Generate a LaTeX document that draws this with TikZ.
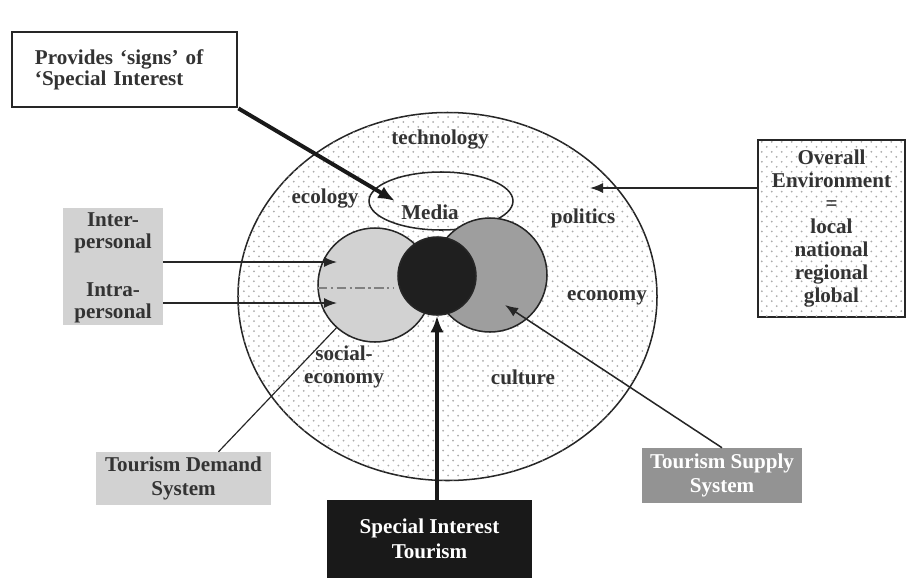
\documentclass[tikz,border=0pt]{standalone}
\usepackage{fontspec}
\setmainfont{Liberation Serif}
\usepackage{tikz}
\usetikzlibrary{positioning, arrows.meta, calc, shapes.geometric, patterns.meta}
\definecolor{lgray}{HTML}{D2D2D2}
\definecolor{mgray}{HTML}{9E9E9E}
\definecolor{bgray}{HTML}{939393}
\definecolor{txt}{HTML}{333333}

\begin{document}
\begin{tikzpicture}[x=0.3mm, y=-0.3mm,
  font=\fontsize{18}{19}\selectfont\bfseries, text=txt,
  dotfill/.style={fill=white,
    postaction={pattern={Dots[distance=8.5pt, radius=0.85pt]}, pattern color=black!33},
    postaction={pattern={Dots[distance=8.5pt, radius=0.85pt, xshift=4.25pt, yshift=4.25pt]},
                pattern color=black!33}},
  ring/.style={draw=black!85, line width=1.3pt, inner sep=0pt},
  box/.style={rectangle, inner sep=0pt, align=center,
              font=\fontsize{18}{21}\selectfont\bfseries},
  ar/.style={-{Latex[length=3.9mm,width=3mm]}, line width=1.3pt, draw=black!85},
  thick ar/.style={-{Latex[length=5mm,width=4mm]}, line width=3.4pt, draw=black!90}]
\useasboundingbox (0,0) rectangle (908,585);

\node[ring, ellipse, dotfill, minimum width=125.7mm, minimum height=110.4mm] (env) at (447.5,296.5) {};
\node (tech) at (440,140) {technology};
\node (eco) at (325,199) {ecology};
\node (pol) at (583,218) {politics};
\node (econ) at (607,298) {economy};
\node[align=center] (soc) at (344,367) {social-\\economy};
\node (cul) at (523,377) {culture};

\node[ring, ellipse, minimum width=43.2mm, minimum height=17.4mm] (media) at (441,201) {};
\node (mtxt) at (430,212) {Media};

\node[ring, circle, fill=lgray, minimum size=34.2mm] (dem) at (375,285) {};
\node[ring, circle, fill=mgray, minimum size=34.2mm] (sup) at (490,275) {};
\node[ring, circle, fill=black!88, minimum size=23.4mm] (sit) at (437,276) {};
\draw[line width=1.4pt, black!50, dash pattern=on 8pt off 3pt on 2pt off 3pt] (318,288) -- (393,288);

\node[box, draw=black!85, line width=2.4pt, minimum width=67.5mm, minimum height=22.5mm,
      inner xsep=6.9mm, text width=53.7mm, align=left,
      font=\fontsize{18}{18}\selectfont\bfseries] (pv) at (124.5,69.5)
  {Provides `signs' of\\`Special Interest};
\node[box, draw=black!85, line width=1.6pt, dotfill, minimum width=44.1mm, minimum height=53.1mm,
      font=\fontsize{18}{19.6}\selectfont\bfseries] (ev) at (831.5,228.5)
  {Overall\\Environment\\=\\local\\national\\regional\\global};

\node[box, fill=lgray, minimum width=30mm, minimum height=35.1mm] (ip) at (113,266.5) {};
\node[align=center] (inter) at (113,232.5) {Inter-\\personal};
\node[align=center] (intra) at (113,302.5) {Intra-\\personal};

\node[box, fill=lgray, minimum width=52.5mm, minimum height=15.9mm] (db) at (183.5,478.5)
  {Tourism Demand\\System};
\node[box, fill=bgray, text=white, minimum width=48mm, minimum height=16.5mm] (sb) at (722,475.5)
  {Tourism Supply\\System};
\node[box, fill=black!90, text=white, minimum width=61.5mm, minimum height=23.4mm] (tb) at (429.5,539)
  {Special Interest\\Tourism};

\coordinate (mtip) at (395,201);
\coordinate (itip) at (337,262);
\coordinate (jtip) at (337,303);
\coordinate (etip) at (590,188);
\coordinate (stip) at (505,305);
\draw[thick ar] (pv.south east) -- (mtip);
\draw[ar] (ip.east |- itip) -- (itip);
\draw[ar] (ip.east |- jtip) -- (jtip);
\draw[ar] (ev.west |- etip) -- (etip);
\draw[ar] (sb.north) -- (stip);
\draw[line width=1pt, black!85] ($(db.north)+(35,0)$) -- (dem.228);
\draw[thick ar] (tb.north -| sit.south) -- (sit.south);
\end{tikzpicture}
\end{document}
